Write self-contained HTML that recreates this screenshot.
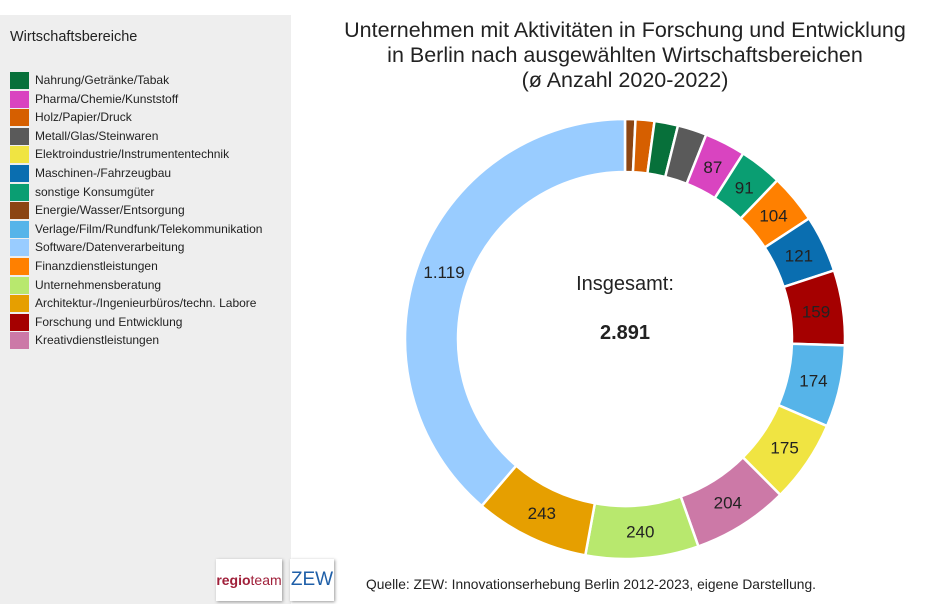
<!DOCTYPE html>
<html><head><meta charset="utf-8"><style>
body{margin:0;width:929px;height:604px;background:#fff;font-family:"Liberation Sans",sans-serif;position:relative;overflow:hidden}
#panel{position:absolute;left:0;top:15px;width:291px;height:589px;background:#eeeeee}
.lt{position:absolute;left:10px;top:29px;font-size:14.5px;color:#222}
.li{position:absolute;left:10px;font-size:12px;color:#222;height:17px;line-height:17px}
.li span{display:inline-block;width:19px;height:17px;vertical-align:top;margin-right:6px}
#title{position:absolute;left:300px;width:650px;top:18px;text-align:center;font-size:21.5px;line-height:25px;color:#222}
.logo{position:absolute;top:559px;height:42px;background:#fff;box-shadow:1px 1px 3px #999;font-size:14px;line-height:42px;text-align:center}
#src{position:absolute;left:366px;top:577px;font-size:13.8px;color:#222}
</style></head><body>
<div id="panel"></div>
<div class="lt">Wirtschaftsbereiche</div>
<div id="leg"></div>
<div id="title">Unternehmen mit Aktivitäten in Forschung und Entwicklung<br>in Berlin nach ausgewählten Wirtschaftsbereichen<br>(ø Anzahl 2020-2022)</div>
<svg id="c" width="929" height="604" style="position:absolute;left:0;top:0"></svg>
<div class="logo" style="left:216px;width:66px;"><b style="color:#a0203a">regio</b><span style="color:#a0203a">team</span></div>
<div class="logo" style="left:290px;width:44px;color:#1f5fa8;font-size:19px">ZEW</div>
<div id="src">Quelle: ZEW: Innovationserhebung Berlin 2012-2023, eigene Darstellung.</div>
<script>
var L=[["Nahrung/Getränke/Tabak","#07703a"],["Pharma/Chemie/Kunststoff","#d944c0"],["Holz/Papier/Druck","#d65f00"],["Metall/Glas/Steinwaren","#5a5a5a"],["Elektroindustrie/Instrumententechnik","#f0e442"],["Maschinen-/Fahrzeugbau","#0a6eb0"],["sonstige Konsumgüter","#0a9e72"],["Energie/Wasser/Entsorgung","#8b4513"],["Verlage/Film/Rundfunk/Telekommunikation","#56b4e9"],["Software/Datenverarbeitung","#99ccff"],["Finanzdienstleistungen","#ff8000"],["Unternehmensberatung","#b8e86e"],["Architektur-/Ingenieurbüros/techn. Labore","#e69f00"],["Forschung und Entwicklung","#a50000"],["Kreativdienstleistungen","#cc79a7"]];
var h="";L.forEach(function(l,i){h+='<div class="li" style="top:'+(72+i*18.6)+'px"><span style="background:'+l[1]+'"></span>'+l[0]+'</div>'});
document.getElementById("leg").innerHTML=h;
var S=[[22,"#8b4513",""],[40,"#d65f00",""],[50,"#07703a",""],[62,"#5a5a5a",""],[87,"#d944c0","87"],[91,"#0a9e72","91"],[104,"#ff8000","104"],[121,"#0a6eb0","121"],[159,"#a50000","159"],[174,"#56b4e9","174"],[175,"#f0e442","175"],[204,"#cc79a7","204"],[240,"#b8e86e","240"],[243,"#e69f00","243"],[1119,"#99ccff","1.119"]];
var T=2891,cx=625,cy=339,R=220,r=167,a=0,s="";
function p(rad,ang){return [cx+rad*Math.sin(ang),cy-rad*Math.cos(ang)]}
S.forEach(function(d){var a0=a/T*2*Math.PI;a+=d[0];var a1=a/T*2*Math.PI;var lg=(a1-a0)>Math.PI?1:0;
var A=p(R,a0),B=p(R,a1),C=p(r,a1),D=p(r,a0);
s+='<path d="M'+A+' A'+R+','+R+' 0 '+lg+' 1 '+B+' L'+C+' A'+r+','+r+' 0 '+lg+' 0 '+D+'Z" fill="'+d[1]+'" stroke="#fff" stroke-width="2.5"/>';
if(d[2]){var m=p(193,(a0+a1)/2);s+='<text x="'+m[0]+'" y="'+(m[1]+6)+'" text-anchor="middle" font-size="17" fill="#222">'+d[2]+'</text>'}});
s+='<text x="625" y="290" text-anchor="middle" font-size="20" fill="#222">Insgesamt:</text><text x="625" y="339" text-anchor="middle" font-size="20" font-weight="bold" fill="#222">2.891</text>';
document.getElementById("c").innerHTML=s;
</script>
</body></html>
